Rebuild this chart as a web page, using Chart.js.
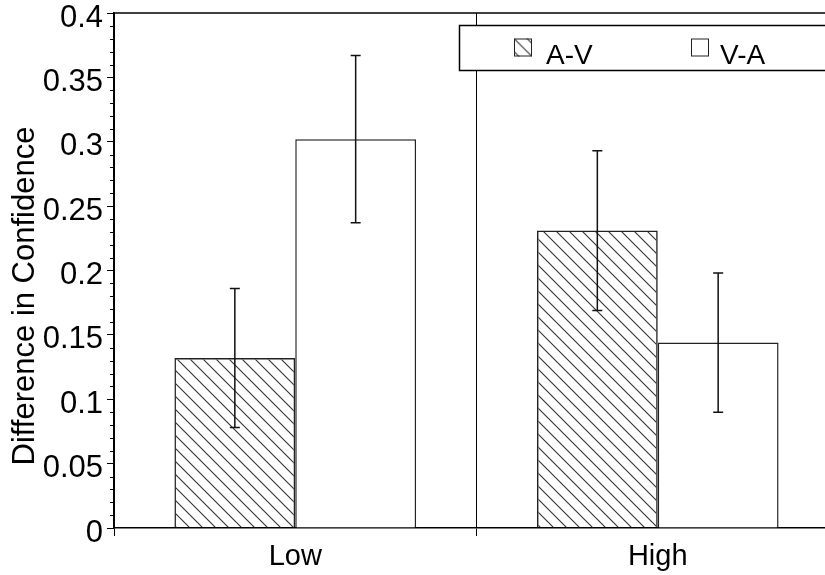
<!DOCTYPE html>
<html>
<head>
<meta charset="utf-8">
<style>
  html, body { margin: 0; padding: 0; background: #fff; overflow: hidden; }
  canvas { display: block; }
</style>
<script src="https://cdn.jsdelivr.net/npm/chart.js@4.4.1/dist/chart.umd.min.js"></script>
</head>
<body>
<canvas id="myChart" width="839" height="575"></canvas>
<script>
// values
const categories = ['Low', 'High'];
const seriesNames = ['A-V', 'V-A'];
const avValues = [0.132, 0.231];
const vaValues = [0.302, 0.144];
const avErrors = [0.054, 0.062];
const vaErrors = [0.065, 0.054];
const yMin = 0;
const yMax = 0.4;
const yStep = 0.05;
const yMinorStep = 0.01;

const FONT = '"Liberation Sans", Arial, sans-serif';
Chart.defaults.font.family = FONT;
Chart.defaults.color = '#000';

// diagonal hatch "\\\" used for A-V
function makeHatch() {
  const s = 13;
  const c = document.createElement('canvas');
  c.width = s; c.height = s;
  const g = c.getContext('2d');
  g.strokeStyle = '#333';
  g.lineWidth = 1.1;
  g.beginPath();
  g.moveTo(-1, -1); g.lineTo(s + 1, s + 1);
  g.moveTo(-1, s - 1); g.lineTo(1, s + 1);
  g.moveTo(s - 1, -1); g.lineTo(s + 1, 1);
  g.stroke();
  return c;
}
const hatchCanvas = makeHatch();
const ctx0 = document.getElementById('myChart').getContext('2d');
const hatch = ctx0.createPattern(hatchCanvas, 'repeat');

const errors = [avErrors, vaErrors];

const errorBars = {
  id: 'errorBars',
  afterDatasetsDraw(chart) {
    const { ctx, scales: { y } } = chart;
    ctx.save();
    ctx.strokeStyle = '#111';
    ctx.lineWidth = 1.5;
    chart.data.datasets.forEach((ds, i) => {
      const meta = chart.getDatasetMeta(i);
      meta.data.forEach((bar, j) => {
        const v = ds.data[j], e = errors[i][j];
        const top = y.getPixelForValue(v + e);
        const bot = y.getPixelForValue(v - e);
        ctx.beginPath();
        ctx.moveTo(bar.x, top); ctx.lineTo(bar.x, bot);
        ctx.moveTo(bar.x - 5, top); ctx.lineTo(bar.x + 5, top);
        ctx.moveTo(bar.x - 5, bot); ctx.lineTo(bar.x + 5, bot);
        ctx.stroke();
      });
    });
    ctx.restore();
  }
};

const frame = {
  id: 'frame',
  afterDraw(chart) {
    const { ctx, chartArea: a, scales: { y } } = chart;
    ctx.save();
    ctx.strokeStyle = '#000';
    ctx.lineWidth = 1;
    // minor ticks on y axis
    ctx.beginPath();
    for (let k = 1; k * yMinorStep < yMax; k++) {
      if (k % Math.round(yStep / yMinorStep) === 0) continue;
      const py = Math.round(y.getPixelForValue(k * yMinorStep)) + 0.5;
      ctx.moveTo(a.left - 4, py); ctx.lineTo(a.left, py);
    }
    ctx.stroke();
    // top frame line
    ctx.lineWidth = 1.5;
    ctx.beginPath();
    ctx.moveTo(a.left, a.top); ctx.lineTo(a.right, a.top);
    ctx.stroke();

    // y title
    ctx.fillStyle = '#000';
    ctx.font = '31px ' + FONT;
    ctx.textAlign = 'center';
    ctx.textBaseline = 'middle';
    ctx.translate(25, 296);
    ctx.rotate(-Math.PI / 2);
    ctx.fillText('Difference in Confidence', 0, 0);
    ctx.restore();

    // legend box
    ctx.save();
    ctx.fillStyle = '#fff';
    ctx.fillRect(459, 25, 400, 46);
    ctx.strokeStyle = '#000';
    ctx.lineWidth = 1.5;
    ctx.strokeRect(459.5, 25.5, 400, 45);
    const items = [
      { x: 514, textX: 546, fill: hatch },
      { x: 691, textX: 720, fill: '#fff' }
    ];
    items.forEach((it, i) => {
      ctx.save();
      ctx.translate(it.x, 38.5);
      ctx.fillStyle = it.fill;
      ctx.fillRect(0, 0, 18, 18);
      ctx.strokeStyle = '#222';
      ctx.lineWidth = 1;
      ctx.strokeRect(0.5, 0.5, 17, 17);
      ctx.restore();
      ctx.fillStyle = '#000';
      ctx.font = '28px ' + FONT;
      ctx.textAlign = 'left';
      ctx.textBaseline = 'alphabetic';
      ctx.fillText(seriesNames[i], it.textX, 64);
    });
    ctx.restore();
  }
};

new Chart(ctx0, {
  type: 'bar',
  data: {
    labels: categories,
    datasets: [
      {
        label: seriesNames[0],
        data: avValues,
        backgroundColor: hatch,
        borderColor: '#222',
        borderWidth: 1.5
      },
      {
        label: seriesNames[1],
        data: vaValues,
        backgroundColor: '#fff',
        borderColor: '#222',
        borderWidth: 1.5
      }
    ]
  },
  options: {
    responsive: false,
    animation: false,
    layout: { padding: { top: 13, right: 0, left: 0, bottom: 0 } },
    datasets: { bar: { categoryPercentage: 2 / 3, barPercentage: 1 } },
    plugins: {
      legend: { display: false },
      tooltip: { enabled: false }
    },
    scales: {
      x: {
        grid: {
          offset: true,
          color: '#000',
          lineWidth: 1,
          tickLength: 8
        },
        border: { color: '#000', width: 1.5 },
        ticks: { font: { size: 29 }, padding: 4, color: '#000' },
        afterFit(scale) {
          scale.height = 47;
          scale.paddingLeft = 0;
          scale.paddingRight = 0;
        }
      },
      y: {
        min: yMin,
        max: yMax,
        grid: {
          drawOnChartArea: false,
          color: '#000',
          tickLength: 7
        },
        border: { color: '#000', width: 1.5 },
        ticks: {
          stepSize: yStep,
          font: { size: 31 },
          padding: 4,
          labelOffset: 5,
          color: '#000',
          callback: v => String(+v.toFixed(2))
        },
        afterFit(scale) {
          scale.width = 114;
          scale.paddingTop = 0;
          scale.paddingBottom = 0;
        }
      }
    }
  },
  plugins: [errorBars, frame]
});
</script>
</body>
</html>
